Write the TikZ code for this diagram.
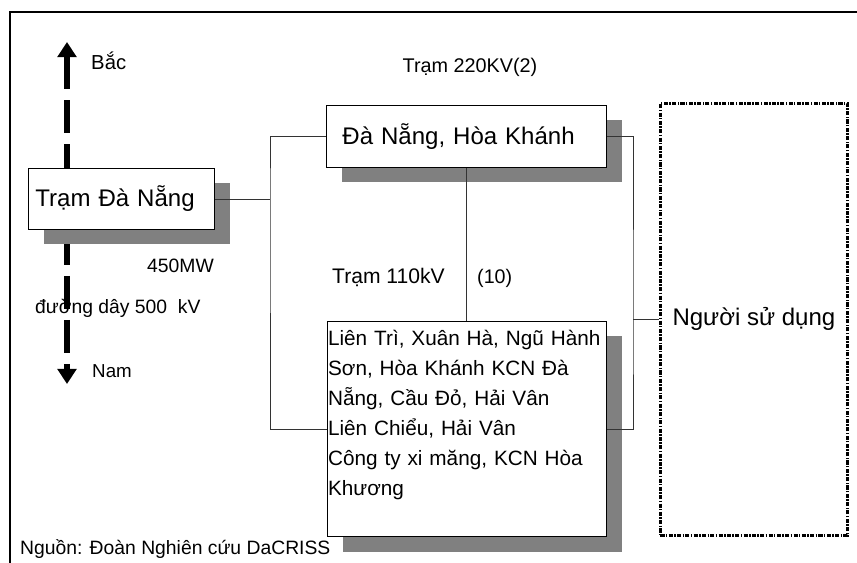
\documentclass[tikz,border=0pt]{standalone}
\usepackage{fontspec}
\setmainfont{Liberation Sans}
\usepackage{tikz}
\usetikzlibrary{arrows.meta,shadows}
\definecolor{shadowgray}{HTML}{808080}

\begin{document}
\begin{tikzpicture}[x=0.03cm,y=-0.03cm,
  stationbox/.style={draw, line width=0.7pt, fill=white, anchor=north west, align=left,
    drop shadow={shadow xshift=0.48cm, shadow yshift=-0.45cm, fill=shadowgray, opacity=1}},
  userbox/.style={draw, line width=2.4pt, dash pattern=on 3.5pt off 1.2pt on 1.2pt off 1.2pt, anchor=north west},
  wire/.style={line width=0.7pt, black!80},
  bigtext/.style={font=\fontsize{20.5}{24}\selectfont},
  midtext/.style={font=\fontsize{18}{22}\selectfont, anchor=base west, inner sep=0pt},
  smalltext/.style={font=\fontsize{16.5}{20}\selectfont, anchor=base west, inner sep=0pt},
  routeline/.style={line width=5pt, dash pattern=on 28pt off 9.5pt, {Triangle[width=16pt,length=13pt]}-{Triangle[width=16pt,length=13pt]}}]

\useasboundingbox (0,0) rectangle (857,563);

%Frame
\draw [line width=1.6pt] (10,563)--(10,12)--(857,12);

%North-south line
\coordinate (north) at (67,42); \coordinate (south) at (67,384);
\draw [routeline] (north)--(south);
\node [midtext, font=\fontsize{17.3}{20}\selectfont] (bac) at (91,70) {Bắc};
\node [smalltext, font=\fontsize{16}{20}\selectfont] (nam) at (92,377) {Nam};
\node [smalltext] (mw) at (147,272) {450MW};
\node [smalltext] (line500) at (35,313) {đường dây 500\ \ kV};

%Stations
\node [stationbox, bigtext, minimum width=5.58cm, minimum height=1.83cm, inner xsep=0.21cm, text width=5.16cm] (tramdn) at (28,168) {Trạm Đà Nẵng};
\node [stationbox, bigtext, minimum width=8.4cm, minimum height=1.86cm, inner xsep=0.48cm, text width=7.44cm] (tram220) at (326,105) {Đà Nẵng, Hòa Khánh};
\node [stationbox, font=\fontsize{17.7}{25.6}\selectfont, inner xsep=0.02cm, text width=8.33cm, inner ysep=5.5pt, text height=15pt, text depth=157.7pt] (tram110) at (327,321)
  {Liên Trì, Xuân Hà, Ngũ Hành\\ Sơn, Hòa Khánh KCN Đà\\ Nẵng, Cầu Đỏ, Hải Vân\\ Liên Chiểu, Hải Vân\\ Công ty xi măng, KCN Hòa\\ Khương};
\node [midtext, font=\fontsize{16.9}{20}\selectfont, anchor=base] (lbl220) at (470,73) {Trạm 220KV(2)};
\node [midtext] (lbl110) at (332,283) {Trạm 110kV};
\node [smalltext, font=\fontsize{16.8}{20}\selectfont] (lbl10) at (477,283) {(10)};

%User
\node [userbox, bigtext, minimum width=5.61cm, minimum height=12.96cm] (user) at (659,102) {Người sử dụng};

%Connectors
\path (tramdn.east -| tram220.west) ++(-56,0) coordinate (busL);
\coordinate (busR) at (633,321);
\draw [wire] (tramdn.east)--(busL);
\draw [wire] (tram220.west) -| (busL) |- (tram110.west);
\draw [wire] (tram220.east) -| (busR) |- (tram110.east);
\draw [wire] (busR |- user.west)--(user.west);
\draw [wire] (tram220.south)--(tram220.south |- tram110.north);

%Source
\node [smalltext] (source) at (20,554) {Nguồn: Đoàn Nghiên cứu DaCRISS};

\end{tikzpicture}
\end{document}
